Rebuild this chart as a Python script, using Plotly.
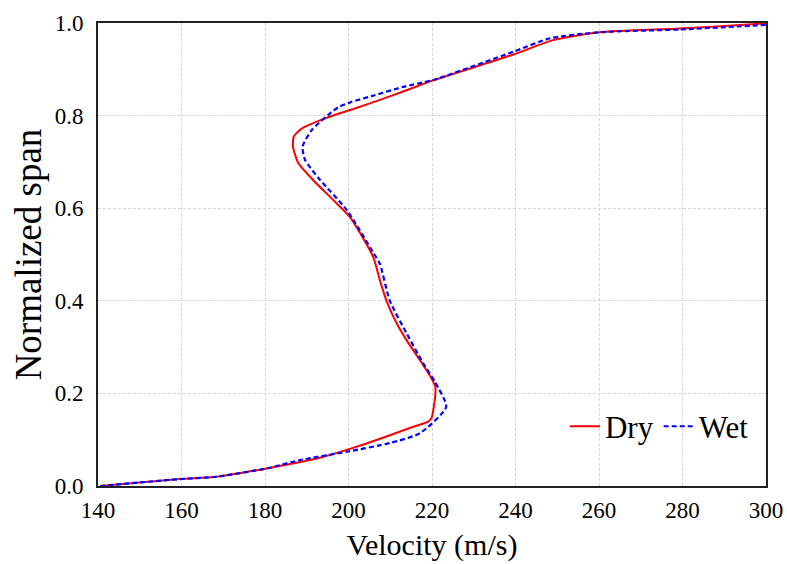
import plotly.graph_objects as go

dry_v = [140.5, 159.6, 168.4, 180.4, 190.8, 194.0, 202.0, 209.1, 215.5, 219.1, 219.9, 220.8,
         218.7, 213.9, 211.5, 209.1, 207.5, 205.9, 200.4, 196.3, 191.5, 188.0, 186.7, 186.9,
         188.8, 194.4, 202.8, 207.5, 213.1, 220.3, 239.5, 249.0, 260.2, 279.4, 297.8, 300.0]
dry_s = [0.0, 0.015, 0.02, 0.038, 0.056, 0.063, 0.085, 0.107, 0.128, 0.139, 0.147, 0.214,
         0.25, 0.315, 0.352, 0.40, 0.445, 0.495, 0.58, 0.618, 0.661, 0.697, 0.733, 0.755,
         0.772, 0.794, 0.819, 0.834, 0.852, 0.876, 0.932, 0.963, 0.98, 0.988, 0.998, 1.0]

wet_v = [140.5, 159.6, 168.4, 180.4, 188.4, 199.6, 210.0, 217.1, 223.4, 220.7, 217.9, 213.9,
         209.9, 207.5, 206.0, 199.6, 193.2, 189.6, 189.0, 191.2, 195.1, 197.5, 200.5, 205.5,
         213.1, 220.3, 239.5, 248.3, 260.2, 279.4, 300.2]
wet_s = [0.0, 0.015, 0.02, 0.038, 0.056, 0.074, 0.093, 0.114, 0.171, 0.225, 0.265, 0.33,
         0.40, 0.48, 0.503, 0.596, 0.661, 0.704, 0.733, 0.769, 0.801, 0.818, 0.829, 0.842,
         0.862, 0.877, 0.938, 0.967, 0.98, 0.986, 0.996]

x_ticks = [140, 160, 180, 200, 220, 240, 260, 280, 300]
y_ticks = [0.0, 0.2, 0.4, 0.6, 0.8, 1.0]

fig = go.Figure()
fig.add_trace(go.Scatter(x=dry_v, y=dry_s, mode="lines", name="Dry",
                         line=dict(color="#ff0000", width=2, shape="spline", smoothing=0.6)))
fig.add_trace(go.Scatter(x=wet_v, y=wet_s, mode="lines", name="Wet",
                         line=dict(color="#0000ff", width=2.2, dash="5px,3px",
                                   shape="spline", smoothing=0.6)))

ff = "Liberation Serif, DejaVu Serif, serif"
fig.update_layout(
    width=787, height=564,
    margin=dict(l=98, r=21, t=23, b=78, autoexpand=False),
    paper_bgcolor="white", plot_bgcolor="white",
    font=dict(family=ff, color="black"),
    showlegend=True,
    legend=dict(orientation="h", x=0.982, xanchor="right", y=0.07, yanchor="bottom",
                bgcolor="rgba(255,255,255,0)", font=dict(size=31, family=ff, color="black"),
                itemwidth=30, tracegroupgap=0),
    shapes=[dict(type="rect", xref="paper", yref="paper", x0=0.67, x1=0.998,
                 y0=0.025, y1=0.2, fillcolor="white", line=dict(width=0), layer="between")],
)
fig.update_xaxes(range=[140, 300], tickvals=x_ticks, ticktext=[str(v) for v in x_ticks],
                 showgrid=True, gridcolor="#d6d6d6", griddash="3px,2px", gridwidth=1,
                 showline=True, linecolor="#222222", linewidth=2, mirror=True, automargin=False,
                 ticks="", ticklabelstandoff=2, zeroline=False,
                 tickfont=dict(size=23, family=ff, color="black"),
                 title=dict(text="Velocity (m/s)", font=dict(size=30, family=ff, color="black"),
                            standoff=12))
fig.update_yaxes(range=[0, 1], tickvals=y_ticks, ticktext=[f"{v:.1f}" for v in y_ticks],
                 showgrid=True, gridcolor="#d6d6d6", griddash="3px,2px", gridwidth=1,
                 showline=True, linecolor="#222222", linewidth=2, mirror=True, automargin=False,
                 ticks="", ticklabelstandoff=8, zeroline=False,
                 tickfont=dict(size=23, family=ff, color="black"),
                 title=dict(text="Normalized span", font=dict(size=37, family=ff, color="black"),
                            standoff=2))

fig.write_html("out.html")
